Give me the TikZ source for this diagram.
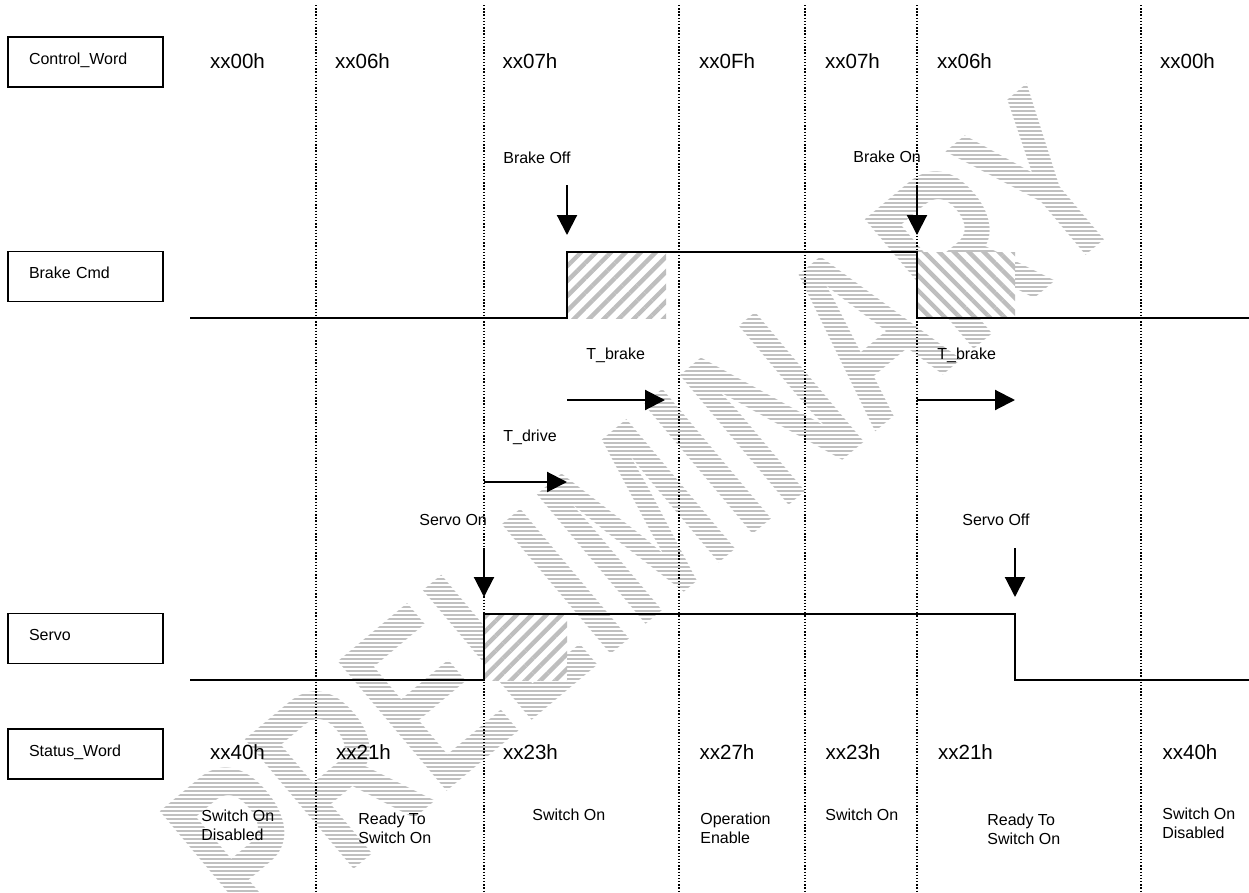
\documentclass[tikz,border=0pt]{standalone}
\usepackage{fontspec}
\setmainfont{Liberation Sans}
\usetikzlibrary{arrows.meta,patterns.meta}
\definecolor{INK}{HTML}{000000}
\definecolor{HATCH}{HTML}{BEBEBE}
\definecolor{WMARK}{HTML}{C0C0C0}

\begin{document}
\begin{tikzpicture}[
  x=0.02cm, y=-0.02cm,
  sigbox/.style={draw=INK, line width=1.1pt, minimum width=3.1cm, minimum height=1cm,
    text width=2.26cm, align=left, inner xsep=0.42cm, inner ysep=0pt,
    text height=5pt, text depth=2.2pt, font=\fontsize{9.1}{10.3}\selectfont},
  lbl/.style={font=\fontsize{9.1}{10.3}\selectfont, inner sep=0pt, anchor=base west, align=left},
  hexv/.style={font=\fontsize{11.7}{13}\selectfont, inner sep=0pt, anchor=base},
  wmark/.style={font=\fontsize{140}{140}\selectfont\bfseries, text=WMARK, rotate=40, inner sep=0pt},
  wstripe/.style={pattern={Lines[angle=0, distance=0.08cm, line width=0.03cm]}, pattern color=white},
  grid/.style={draw=INK, line width=0.8pt, densely dotted},
  wave/.style={draw=INK, line width=1.4pt},
  hatchR/.style={preaction={fill=white}, pattern={Lines[angle=45, distance=6pt, line width=2.5pt]}, pattern color=HATCH},
  hatchL/.style={preaction={fill=white}, pattern={Lines[angle=-45, distance=6pt, line width=2.5pt]}, pattern color=HATCH},
  evt/.style={-{Triangle[length=0.4cm, width=0.4cm]}, draw=INK, line width=1.2pt},
]
\path[use as bounding box, fill=white] (0,0) rectangle (1249,893);

% ---- watermark ------------------------------------------------------------
\node[wmark] (wm) at (645,515) {\scalebox{0.68}[1]{PRELIMINARY}};
\fill[wstripe] (0,0) rectangle (1249,893);

% ---- hatched delay areas --------------------------------------------------
\fill[hatchR] (567,252) rectangle (666,318);
\fill[hatchL] (917,252) rectangle (1015,318);
\fill[hatchR] (484,614) rectangle (567,680);

% ---- phase borders --------------------------------------------------------
\draw[grid] (316,5) -- (316,893);
\draw[grid] (484,5) -- (484,893);
\draw[grid] (679,5) -- (679,893);
\draw[grid] (805,5) -- (805,893);
\draw[grid] (917,5) -- (917,893);
\draw[grid] (1141,5) -- (1141,893);

% ---- signal names ---------------------------------------------------------
\node[sigbox] (cwbox) at (85.5,62) {Control\_Word};
\node[sigbox] (bcbox) at (85.5,276.5) {Brake Cmd};
\node[sigbox] (svbox) at (85.5,638.5) {Servo};
\node[sigbox] (swbox) at (85.5,754) {Status\_Word};

% ---- waveforms ------------------------------------------------------------
\draw[wave] (190,318) -- (567,318) -- (567,252) -- (917,252) -- (917,318) -- (1249,318);
\draw[wave] (190,680) -- (484,680) -- (484,614) -- (1015,614) -- (1015,680) -- (1249,680);

% ---- control word ---------------------------------------------------------
\node[hexv] (cw1) at (237.5,68) {xx00h};
\node[hexv] (cw2) at (362.5,68) {xx06h};
\node[hexv] (cw3) at (530,68) {xx07h};
\node[hexv] (cw4) at (727,68) {xx0Fh};
\node[hexv] (cw5) at (852.5,68) {xx07h};
\node[hexv] (cw6) at (964.5,68) {xx06h};
\node[hexv] (cw7) at (1187.5,68) {xx00h};

% ---- brake events ---------------------------------------------------------
\node[lbl] (lboff) at (503,163) {Brake Off};
\node[lbl] (lbon) at (853,162) {Brake On};
\coordinate (boffA) at (567,185);
\coordinate (boffB) at (567,235);
\coordinate (bonA) at (917,185);
\coordinate (bonB) at (917,235);
\draw[evt] (boffA) -- (boffB);
\draw[evt] (bonA) -- (bonB);

% ---- delay times ----------------------------------------------------------
\node[lbl] (ltb1) at (586,359) {T\_brake};
\node[lbl] (ltb2) at (937,359) {T\_brake};
\node[lbl] (ltdr) at (503,441) {T\_drive};
\coordinate (tb1A) at (567,400);
\coordinate (tb1B) at (665,400);
\coordinate (tb2A) at (917,400);
\coordinate (tb2B) at (1015,400);
\coordinate (tdrA) at (484,482);
\coordinate (tdrB) at (567,482);
\draw[evt] (tb1A) -- (tb1B);
\draw[evt] (tb2A) -- (tb2B);
\draw[evt] (tdrA) -- (tdrB);

% ---- servo events ---------------------------------------------------------
\node[lbl] (lson) at (419,525) {Servo On};
\node[lbl] (lsoff) at (962,525) {Servo Off};
\coordinate (sonA) at (484,548);
\coordinate (sonB) at (484,597);
\coordinate (soffA) at (1015,548);
\coordinate (soffB) at (1015,597);
\draw[evt] (sonA) -- (sonB);
\draw[evt] (soffA) -- (soffB);

% ---- status word ----------------------------------------------------------
\node[hexv] (sw1) at (237.5,759) {xx40h};
\node[hexv] (sw2) at (363.5,759) {xx21h};
\node[hexv] (sw3) at (530.5,759) {xx23h};
\node[hexv] (sw4) at (727,759) {xx27h};
\node[hexv] (sw5) at (853,759) {xx23h};
\node[hexv] (sw6) at (965.5,759) {xx21h};
\node[hexv] (sw7) at (1190,759) {xx40h};

% ---- drive states ---------------------------------------------------------
\node[lbl] (st1) at (201,840) {Switch On\\Disabled};
\node[lbl] (st2) at (358,843) {Ready To\\Switch On};
\node[lbl] (st3) at (532,820) {Switch On};
\node[lbl] (st4) at (700,843) {Operation\\Enable};
\node[lbl] (st5) at (825,820) {Switch On};
\node[lbl] (st6) at (987,844) {Ready To\\Switch On};
\node[lbl] (st7) at (1162,838) {Switch On\\Disabled};

\end{tikzpicture}
\end{document}
